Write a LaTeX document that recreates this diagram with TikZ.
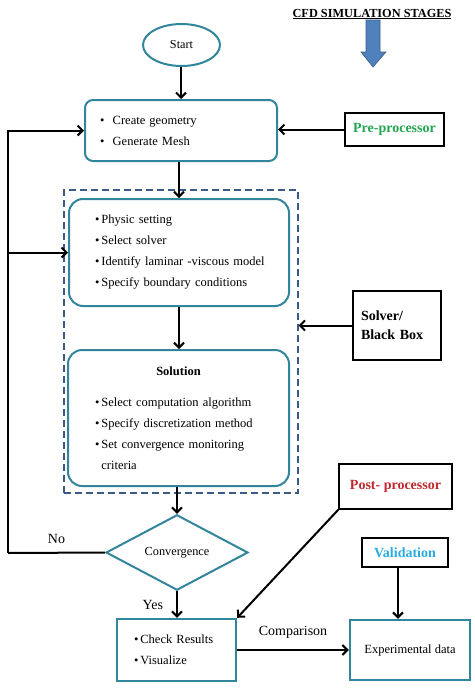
\documentclass[tikz,border=0pt]{standalone}
\usepackage{fontspec}
\setmainfont{Liberation Serif}
\usetikzlibrary{arrows.meta,shapes.geometric}
\definecolor{tealc}{RGB}{49,133,156}
\definecolor{dashc}{RGB}{59,90,133}
\definecolor{greenc}{RGB}{34,166,80}
\definecolor{redc}{RGB}{192,40,45}
\definecolor{cyanc}{RGB}{41,171,226}
\definecolor{arrowfill}{RGB}{79,129,189}
\definecolor{arrowedge}{RGB}{56,93,138}
\newcommand{\ind}[1]{\hspace*{#1pt}}
\newcommand{\bul}{\textbullet\hspace{2pt}}
\tikzset{
  arr/.style={line width=2pt, -{Straight Barb[length=5pt,width=10pt,line width=2pt]}},
  plainline/.style={line width=2pt},
  roundbox/.style={draw=tealc, line width=2pt, rounded corners=14pt, inner sep=0pt,
     align=left, font=\fontsize{12.5}{21}\selectfont},
  tealbox/.style={draw=tealc, line width=2.4pt, inner sep=0pt, align=left,
     font=\fontsize{12.5}{21}\selectfont},
  blackbox/.style={draw=black, line width=1.5pt, inner sep=0pt,
     font=\fontsize{14}{19}\selectfont\bfseries},
  lbl/.style={inner sep=0pt, font=\fontsize{14}{16}\selectfont},
}
\begin{document}
\begin{tikzpicture}[x=1pt,y=-1pt]
\useasboundingbox (0,0) rectangle (474,688);
% title and stage arrow
\node[inner sep=0pt, font=\fontsize{12.3}{14}\selectfont\bfseries] (title) at (372,14) {\underline{CFD SIMULATION STAGES}};
\draw[fill=arrowfill, draw=arrowedge, line width=0.6pt]
  (366,20) -- (380,20) -- (380,52) -- (386,52) -- (373,67) -- (361,52) -- (366,52) -- cycle;
% main flow
\node[draw=tealc, line width=2pt, ellipse, minimum width=77pt, minimum height=42pt, inner sep=0pt,
  font=\fontsize{12.2}{14}\selectfont] (start) at (181.5,45) {Start};
\node[roundbox, rounded corners=8pt, minimum width=192pt, minimum height=61pt, text width=192pt] (box1) at (181,130.5)
  {\ind{15}\textbullet\ \ Create geometry\\ \ind{15}\textbullet\ \ Generate Mesh};
\node[draw=dashc, line width=1.2pt, dash pattern=on 7pt off 4pt, minimum width=234pt, minimum height=303pt, inner sep=0pt] (frame) at (181,341.5) {};
\node[roundbox, minimum width=220pt, minimum height=107pt, text width=220pt] (box2) at (179,252.5)
  {\ind{26}\bul Physic setting\\ \ind{26}\bul Select solver\\
   \ind{26}\bul Identify laminar -viscous model\\ \ind{26}\bul Specify boundary conditions};
\node[roundbox, minimum width=221pt, minimum height=136pt, text width=221pt] (box3) at (178.5,418)
  {\centering\textbf{Solution}\par\vspace{10pt}\raggedright
   \ind{27}\bul Select computation algorithm\\ \ind{27}\bul Specify discretization method\\
   \ind{27}\bul Set convergence monitoring\\ \ind{27}\phantom{\bul}criteria};
\node[draw=tealc, line width=2pt, diamond, minimum width=142pt, minimum height=57pt, inner sep=0pt,
  font=\fontsize{12.3}{14}\selectfont] (conv) at (177,552.5) {Convergence};
\node[tealbox, minimum width=119pt, minimum height=62pt, text width=119pt] (check) at (176.5,650)
  {\ind{17}\bul Check Results\\ \ind{17}\bul Visualize};
\node[tealbox, minimum width=120pt, minimum height=60pt, align=center] (exp) at (410,650) {Experimental data};
% stage boxes
\node[blackbox, minimum width=99pt, minimum height=33pt, text=greenc] (pre) at (394.5,129.5) {Pre-processor};
\node[blackbox, minimum width=88pt, minimum height=69pt, text width=88pt, align=left] (solver) at (397,325.5)
  {\ind{8}Solver/\\ \ind{8}Black Box};
\node[blackbox, minimum width=113pt, minimum height=45pt, text=redc] (post) at (395.5,486.5) {Post- processor};
\node[blackbox, minimum width=86pt, minimum height=29pt, text=cyanc] (valid) at (405,552.5) {Validation};
% connectors
\coordinate (lc) at (8,553);
\coordinate (lb) at (8,252.5);
\coordinate (vx) at (398,0);
\draw[arr] (start.south -| box1.north) -- (box1.north);
\draw[arr] (box1.south -| box2.north) -- (box2.north);
\draw[arr] (box2.south) -- (box2.south |- box3.north);
\draw[arr] (box3.south -| conv.north) -- (conv.north);
\draw[arr] (conv.south) -- node[lbl, left=13pt] (yes) {Yes} (conv.south |- check.north);
\draw[plainline] (conv.west) -- node[lbl, above=8pt] (no) {No} (lc);
\draw[arr] (lc) |- (box1.west);
\draw[arr] (lb) -- (box2.west);
\draw[arr] (pre.west) -- (pre.west -| box1.east);
\draw[arr] (solver.west) -- (solver.west -| frame.east);
\draw[arr] (post.south west) -- (check.north east);
\draw[arr] (valid.south -| vx) -- (vx |- exp.north);
\draw[arr] (check.east) -- node[lbl, above=11pt] (cmp) {Comparison} (check.east -| exp.west);
\end{tikzpicture}
\end{document}
